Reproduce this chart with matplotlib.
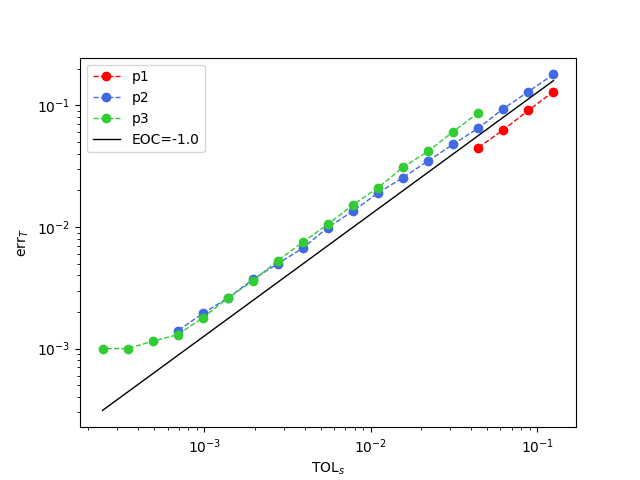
import matplotlib
matplotlib.use('Agg')
import matplotlib.pyplot as plt

tol = [0.125, 0.0884, 0.0625, 0.0442, 0.03125, 0.0221, 0.0156, 0.011,
       0.0078, 0.0055, 0.0039, 0.00276, 0.00195, 0.00138, 0.00098,
       0.00069, 0.00049, 0.000345, 0.000244]

p1_x = tol[:4]
p1_y = [0.13, 0.091, 0.063, 0.045]

p2_x = tol[:16]
p2_y = [0.18, 0.13, 0.094, 0.065, 0.048, 0.035, 0.0255, 0.019,
        0.0135, 0.0099, 0.0067, 0.005, 0.0037, 0.0026, 0.00195, 0.0014]

p3_x = tol[3:]
p3_y = [0.087, 0.061, 0.042, 0.031, 0.021, 0.0152, 0.0105, 0.0075,
        0.0053, 0.0036, 0.0026, 0.0018, 0.0013, 0.00115, 0.001, 0.001]

eoc_x = [tol[-1], tol[0]]
eoc_y = [0.00031, 0.16]

fig, ax = plt.subplots(figsize=(6.4, 4.8), dpi=100)
ax.loglog(p1_x, p1_y, 'o--', color='red', lw=1, label='p1')
ax.loglog(p2_x, p2_y, 'o--', color='royalblue', lw=1, label='p2')
ax.loglog(p3_x, p3_y, 'o--', color='limegreen', lw=1, label='p3')
ax.loglog(eoc_x, eoc_y, 'k-', lw=1, label='EOC=-1.0')
ax.set_xlabel('TOL$_s$')
ax.set_ylabel('err$_T$')
ax.legend(loc='upper left')
fig.savefig('out.png')
